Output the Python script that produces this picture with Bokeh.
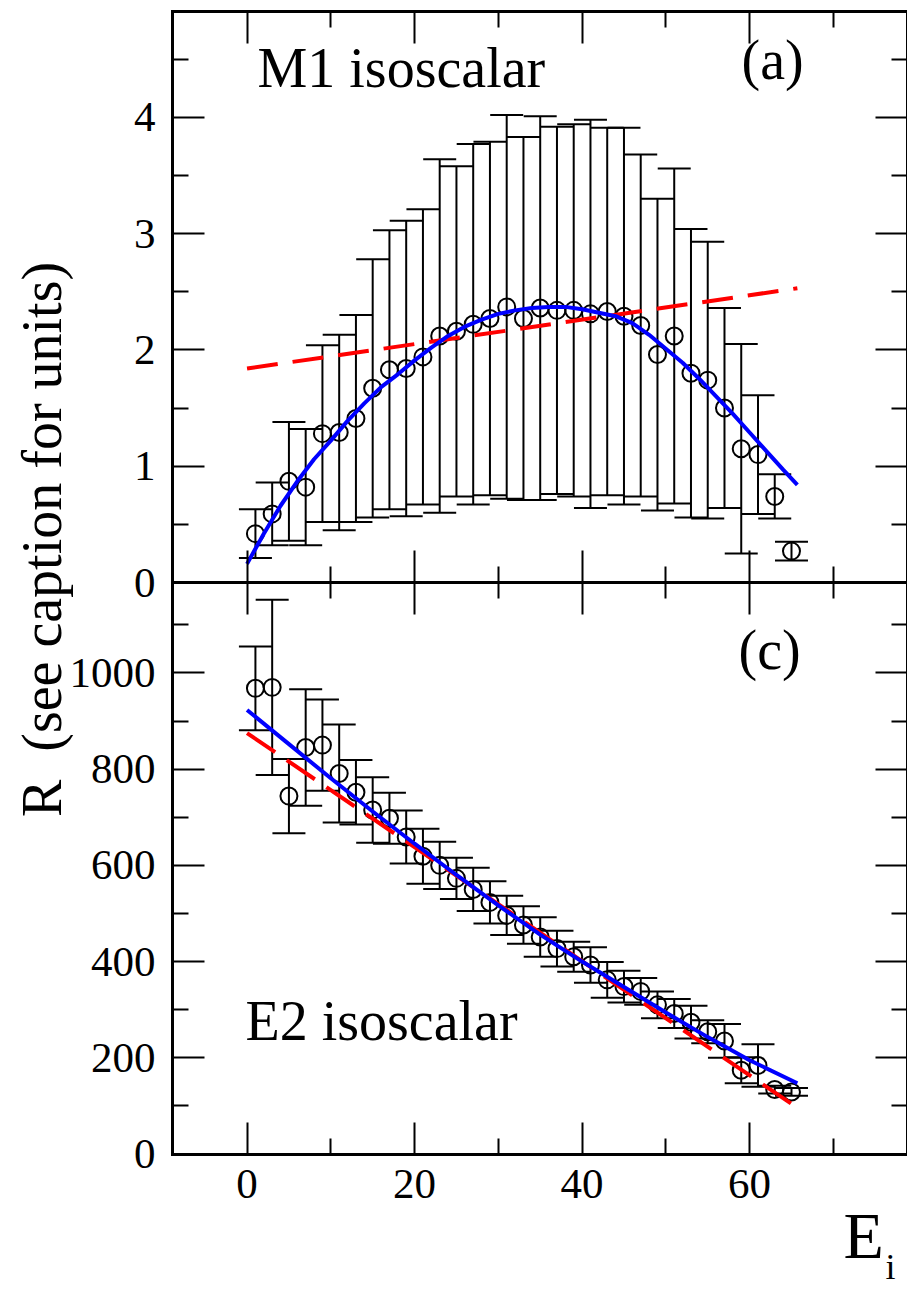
from bokeh.plotting import figure
from bokeh.models import Range1d, LinearAxis, FixedTicker, Whisker, TeeHead, ColumnDataSource, Label
from bokeh.embed import file_html
from bokeh.resources import INLINE

# ---------------- data ----------------
E_I = [1, 3, 5, 7, 9, 11, 13, 15, 17, 19, 21, 23, 25, 27, 29, 31, 33,
       35, 37, 39, 41, 43, 45, 47, 49, 51, 53, 55, 57, 59, 61, 63, 65]

M1_R = [0.42, 0.59, 0.87, 0.82, 1.28, 1.29, 1.41, 1.67, 1.83, 1.84, 1.94, 2.12, 2.16, 2.22, 2.27, 2.37, 2.27,
        2.36, 2.34, 2.34, 2.31, 2.33, 2.29, 2.21, 1.96, 2.12, 1.80, 1.74, 1.50, 1.15, 1.10, 0.74, 0.27]
M1_ERR = [0.21, 0.27, 0.51, 0.50, 0.76, 0.84, 0.89, 1.11, 1.20, 1.27, 1.27, 1.52, 1.42, 1.55, 1.52, 1.65, 1.56,
          1.65, 1.58, 1.60, 1.67, 1.58, 1.62, 1.47, 1.34, 1.44, 1.24, 1.19, 0.86, 0.90, 0.51, 0.19, 0.08]

E2_R = [968, 970, 744, 845, 850, 791, 752, 715, 698, 659, 619, 600, 573, 550, 523, 496, 476,
        451, 427, 410, 393, 362, 348, 338, 310, 292, 274, 254, 235, 174, 184, 134, 129]
E2_ERR = [87, 182, 77, 121, 95, 102, 67, 68, 53, 55, 57, 49, 43, 45, 44, 41, 39,
          41, 37, 31, 37, 37, 33, 28, 28, 30, 34, 24, 35, 27, 44, 8, 8]

# fitted curves
M1_FIT_X = [0, 2, 4, 6, 8, 10, 12, 14, 16, 18, 20, 22, 24, 26, 28, 30, 32, 34, 36, 38,
            40, 42, 44, 46, 48, 50, 52, 54, 56, 58, 60, 62, 64, 65.7]
M1_FIT_Y = [0.16, 0.42, 0.66, 0.87, 1.06, 1.22, 1.39, 1.54, 1.68, 1.79, 1.91, 2.02, 2.12, 2.20, 2.26, 2.31,
            2.34, 2.36, 2.37, 2.37, 2.35, 2.32, 2.29, 2.23, 2.13, 2.01, 1.89, 1.75, 1.60, 1.45, 1.29,
            1.13, 0.97, 0.84]
M1_LIN_X = [0, 65.7]
M1_LIN_Y = [1.84, 2.53]

E2_FIT_X = [0, 5, 10, 15, 20, 25, 30, 35, 40, 45, 50, 55, 60, 65.7]
E2_FIT_Y = [923, 852, 781, 712, 645, 580, 517, 456, 400, 347, 294, 243, 195, 147]
E2_LIN_X = [0, 65.7]
E2_LIN_Y = [875, 96]

X_TICKS = [0, 20, 40, 60]
X_MINOR = [10, 30, 50, 70]
M1_TICKS = [0, 1, 2, 3, 4]
M1_MINOR = [0.5, 1.5, 2.5, 3.5, 4.5]
E2_TICKS = [0, 200, 400, 600, 800, 1000]
E2_MINOR = [100, 300, 500, 700, 900, 1100]

# ---------------- geometry ----------------
FONT = "Liberation Serif"
W, H = 907, 1288                  # canvas size (px)
PX_L, PX_R = 172.0, 907.0         # panel left / right edges (px)
PX_T, PX_M, PX_B = 11.0, 582.0, 1153.5   # top, middle, bottom edges (px)
XL, XR = -8.9, 78.85              # x limits of the panels
YB = 1188.0                       # top of lower panel (E2 units)
YT = 4.91                         # top of upper panel (M1 units)

SX = (PX_R - PX_L) / (XR - XL)
SB = (PX_B - PX_M) / YB
ST = (PX_M - PX_T) / YT


def xd(px):
    return XL + (px - PX_L) / SX


def yb(py):
    return (PX_B - py) / SB


def yt(py):
    return (PX_M - py) / ST


p = figure(width=W, height=H, x_range=Range1d(xd(0), xd(W)), y_range=Range1d(yb(H), yb(0)),
           output_backend="svg", toolbar_location=None,
           x_axis_location=None, y_axis_location=None, min_border=0,
           min_border_left=0, min_border_right=0, min_border_top=0, min_border_bottom=0)
p.extra_y_ranges = {"top": Range1d(yt(H), yt(0))}
p.grid.visible = False
p.outline_line_color = None
p.background_fill_color = "white"
p.border_fill_color = "white"


def axis(side, loc, bounds, major, minor, show_labels, line, rng=None):
    kw = {}
    if rng is not None:
        kw["y_range_name"] = rng
    ax = LinearAxis(fixed_location=loc, bounds=bounds, **kw)
    ax.ticker = FixedTicker(ticks=major, minor_ticks=minor)
    ax.major_tick_in = 32
    ax.major_tick_out = 0
    ax.minor_tick_in = 16
    ax.minor_tick_out = 0
    ax.major_tick_line_width = 2
    ax.minor_tick_line_width = 2
    ax.major_tick_line_color = "black"
    ax.minor_tick_line_color = "black"
    if line:
        ax.axis_line_color = "black"
        ax.axis_line_width = 3
        ax.axis_line_cap = "square"
    else:
        ax.axis_line_color = None
    if show_labels:
        ax.major_label_text_font = FONT
        ax.major_label_text_font_size = "43px"
        ax.major_label_text_color = "black"
        ax.major_label_standoff = 16 if side == "below" else 17
    else:
        ax.major_label_text_color = None
        ax.major_label_standoff = 0
    p.add_layout(ax, side)
    return ax


# box, middle line and ticks of both panels
axis("below", 0, (XL, XR), X_TICKS, X_MINOR, True, True)          # bottom of lower panel
axis("above", 2 * YB, (XL, XR), X_TICKS, X_MINOR, False, True)    # top of upper panel
axis("below", YB, (XL, XR), X_TICKS, X_MINOR, False, True)        # bottom of upper panel
axis("above", YB, (XL, XR), X_TICKS, X_MINOR, False, False)       # top of lower panel
axis("left", XL, (0, 2 * YB), E2_TICKS, E2_MINOR, True, True)
axis("right", XR, (0, 2 * YB), E2_TICKS, E2_MINOR, False, True)
axis("left", XL, (0, YT), M1_TICKS, M1_MINOR, True, False, rng="top")
axis("right", XR, (0, YT), M1_TICKS, M1_MINOR, False, False, rng="top")

# ---------------- data glyphs ----------------
src_m1 = ColumnDataSource(dict(x=E_I, y=M1_R,
                               lo=[r - e for r, e in zip(M1_R, M1_ERR)],
                               hi=[r + e for r, e in zip(M1_R, M1_ERR)]))
src_e2 = ColumnDataSource(dict(x=E_I, y=E2_R,
                               lo=[r - e for r, e in zip(E2_R, E2_ERR)],
                               hi=[r + e for r, e in zip(E2_R, E2_ERR)]))

for src, rng in ((src_m1, "top"), (src_e2, "default")):
    w = Whisker(source=src, base="x", lower="lo", upper="hi", dimension="height",
                line_color="black", line_width=2, y_range_name=rng,
                upper_head=TeeHead(size=33, line_color="black", line_width=2),
                lower_head=TeeHead(size=33, line_color="black", line_width=2))
    p.add_layout(w)

p.scatter("x", "y", source=src_m1, marker="circle", size=17, fill_color=None,
          line_color="black", line_width=2, y_range_name="top")
p.scatter("x", "y", source=src_e2, marker="circle", size=17, fill_color=None,
          line_color="black", line_width=2)

p.line(M1_LIN_X, M1_LIN_Y, line_color="red", line_width=4, line_dash="31 15", y_range_name="top")
p.line(M1_FIT_X, M1_FIT_Y, line_color="blue", line_width=4, y_range_name="top")
p.line(E2_LIN_X, E2_LIN_Y, line_color="red", line_width=4, line_dash="34 14")
p.line(E2_FIT_X, E2_FIT_Y, line_color="blue", line_width=4)


# ---------------- texts ----------------
def lab(px, py, text, size, top=False, **kw):
    rng = "top" if top else "default"
    y = yt(py) if top else yb(py)
    p.add_layout(Label(x=xd(px), y=y, text=text, y_range_name=rng, text_font=FONT,
                       text_font_size=f"{size}px", text_color="black", **kw))


BL = 0.36   # baseline correction (em)
lab(257, 88 - BL * 56, "M1 isoscalar", 56, top=True, text_baseline="alphabetic")
lab(741, 80 - BL * 56, "(a)", 56, top=True, text_baseline="alphabetic")
lab(738, 670 - BL * 56, "(c)", 56, text_baseline="alphabetic")
lab(245, 1041 - BL * 56, "E2 isoscalar", 56, text_baseline="alphabetic")
lab(41, 539, "R \u00a0(see caption for units)", 56, angle=90, angle_units="deg",
    text_align="center", text_baseline="middle")
lab(843, 1259 - BL * 66, "E", 66, text_baseline="alphabetic")
lab(885, 1279 - BL * 36, "i", 36, text_baseline="alphabetic")

open("out.html", "w").write(file_html(p, INLINE))
